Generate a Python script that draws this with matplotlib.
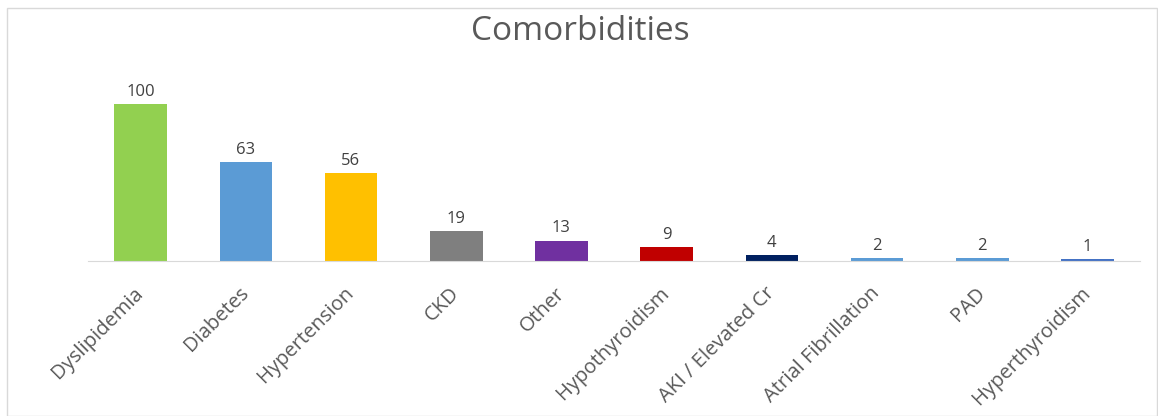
import matplotlib.pyplot as plt
import matplotlib.transforms as mtransforms
from matplotlib.patches import Rectangle

# data
categories = ['Dyslipidemia', 'Diabetes', 'Hypertension', 'CKD', 'Other',
              'Hypothyroidism', 'AKI / Elevated Cr', 'Atrial Fibrillation',
              'PAD', 'Hyperthyroidism']
counts = [100, 63, 56, 19, 13, 9, 4, 2, 2, 1]
colors = ['#92D050', '#5B9BD5', '#FFC000', '#7F7F7F', '#7030A0',
          '#C00000', '#002060', '#5B9BD5', '#5B9BD5', '#4472C4']

plt.rcParams['font.family'] = ['Open Sans', 'DejaVu Sans']

W, H = 1158, 416
fig = plt.figure(figsize=(W / 100, H / 100), dpi=100)

# light frame around the chart area
fig.patches.append(Rectangle((7 / W, 0), (W - 8) / W, (H - 8) / H,
                             transform=fig.transFigure, fill=False,
                             edgecolor='#d9d9d9', linewidth=1))

left, right = 88 / W, 1140 / W
bottom = 1 - 261 / H
top = 1 - 88 / H
ax = fig.add_axes([left, bottom, right - left, top - bottom])

x = range(len(categories))
bars = ax.bar(x, counts, width=0.5, color=colors)
ax.set_xlim(-0.5, len(categories) - 0.5)
ax.set_ylim(0, 110)

for b, v in zip(bars, counts):
    ax.annotate(str(v), (b.get_x() + b.get_width() / 2, v),
                xytext=(0, 3), textcoords='offset points',
                ha='center', va='bottom', fontsize=12, color='#404040')

ax.set_xticks(list(x))
ax.set_xticklabels(categories, rotation=45, ha='right', rotation_mode='anchor',
                   fontsize=14.5, color='#595959')
ax.tick_params(axis='x', length=0, pad=16)
# nudge rotated labels a little to the left
shift = mtransforms.ScaledTranslation(-7 / 100, 0, fig.dpi_scale_trans)
for lbl in ax.get_xticklabels():
    lbl.set_transform(lbl.get_transform() + shift)
ax.set_yticks([])
for s in ['top', 'right', 'left']:
    ax.spines[s].set_visible(False)
ax.spines['bottom'].set_color('#d9d9d9')

fig.text(580 / W, 1 - 40 / H, 'Comorbidities', ha='center', va='baseline',
         fontsize=24, color='#595959')

fig.savefig('out.png', dpi=100)
